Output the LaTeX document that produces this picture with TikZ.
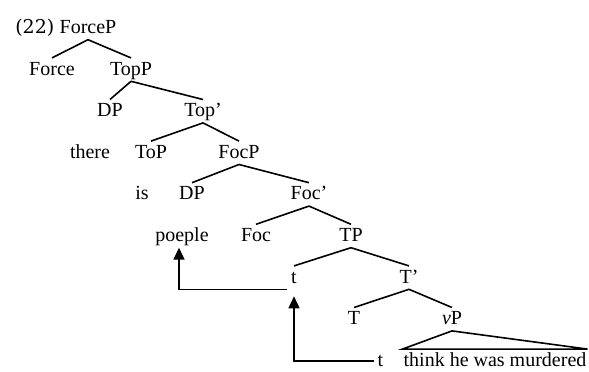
\documentclass[tikz,border=0pt]{standalone}
\usepackage{fontspec}
\setmainfont{Liberation Serif}
\newfontfamily\exfont{DejaVu Serif}
\usetikzlibrary{arrows.meta, positioning, trees}

\begin{document}
\begin{tikzpicture}[x=1pt, y=1pt,
	every node/.style={font=\fontsize{20}{24}\selectfont, text height=15pt, text depth=4pt, inner xsep=1pt, inner ysep=2pt},
	level distance=41.6pt, sibling distance=0pt,
	edge from parent/.style={draw, line width=1.6pt},
	edge from parent path={(\tikzparentnode.south) -- (\tikzchildnode.north)},
	trace/.style={draw, line width=1.6pt, -{Triangle[width=11pt,length=12pt]}}]
	\useasboundingbox (0,0) rectangle (589,-372);
	\node (forcep) at (88,-28) {ForceP}
	child[xshift=-36pt] { node (force) {Force} }
	child[xshift=43pt] {
		node (topp) {TopP}
		child[xshift=-21pt] { node (dpa) {DP}
			child[xshift=-20pt] { node (there) {there} edge from parent[draw=none] } }
		child[xshift=72pt] {
			node (topbar) {Top'}
			child[xshift=-52pt] { node (top) {ToP}
				child[xshift=-9pt] { node (is) {is} edge from parent[draw=none] } }
			child[xshift=36pt] {
				node (focp) {FocP}
				child[xshift=-47pt] { node (dpb) {DP}
					child[xshift=-10pt] { node (poeple) {poeple} edge from parent[draw=none] } }
				child[xshift=70pt] {
					node (focbar) {Foc'}
					child[xshift=-53pt] { node (foc) {Foc} }
					child[xshift=42pt] {
						node (tp) {TP}
						child[xshift=-57pt] { node (ta) {t} }
						child[xshift=58pt] {
							node (tbar) {T'}
							child[xshift=-55pt] { node (t) {T} }
							child[xshift=43pt] {
								node (vp) {\textit{v}P}
								child[xshift=43pt, edge from parent path={(\tikzparentnode.south) -- (\tikzchildnode.north west) -- (\tikzchildnode.north east) -- cycle}] {
									node (vbar) {think he was murdered} }
							}
						}
					}
				}
			}
		}
	};
	% NUMBER AND TRACE
	\node[left=3pt of forcep, font=\exfont\fontsize{19}{24}\selectfont] (ex) {(22)};
	\node[left=18pt of vbar] (tb) {t};
	% MOVEMENT
	\draw[trace] ([xshift=-2pt]tb.west) -| ([yshift=-7pt]ta.south);
	\draw[trace] ([xshift=-3pt]ta.south west) -| ([xshift=-3pt]poeple.south);
\end{tikzpicture}
\end{document}
